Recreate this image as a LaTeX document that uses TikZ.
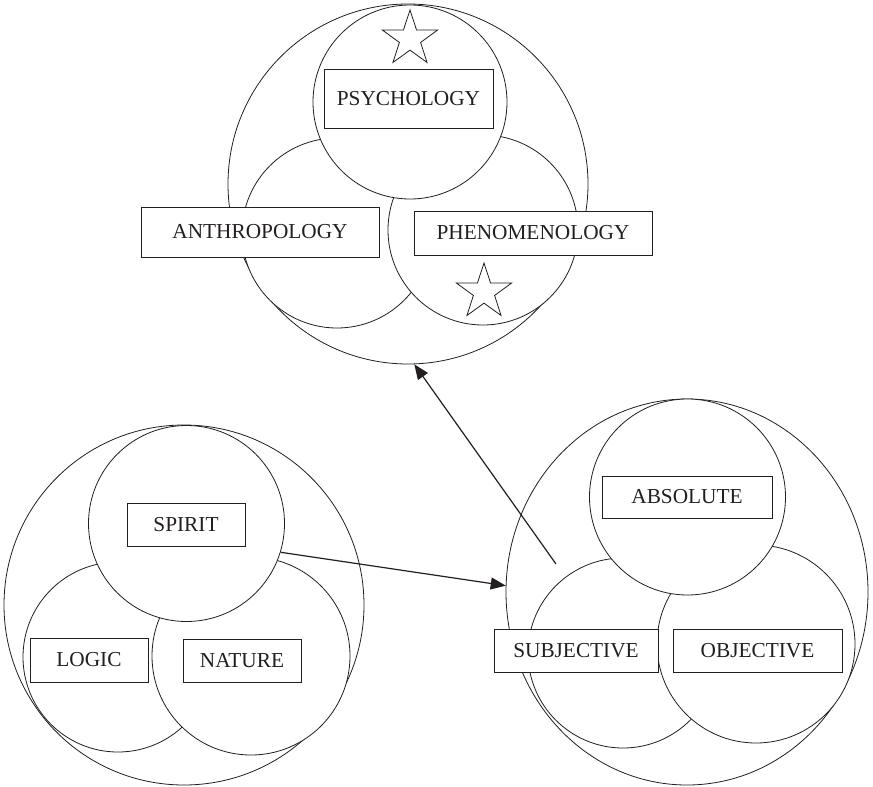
\documentclass[tikz,border=0pt]{standalone}
\usepackage{fontspec}
\setmainfont{Liberation Serif}
\usepackage{xcolor}
\usepackage{tikz}
\usetikzlibrary{arrows.meta,shapes.geometric}
\definecolor{ink}{HTML}{231F20}
\tikzset{
  ring/.style={circle, draw=ink, fill=white, line width=0.8pt, inner sep=0pt},
  oval/.style={ellipse, draw=ink, fill=white, line width=0.8pt, inner sep=0pt},
  tag/.style={rectangle, draw=ink, fill=white, line width=0.8pt, inner sep=0pt,
    text=ink, font=\fontsize{21.3}{25}\selectfont},
  sparkle/.style={star, star points=5, star point ratio=2.6, draw=ink, fill=white,
    line width=0.8pt, inner sep=0pt, minimum size=58pt},
  flow/.style={-{Triangle[length=15pt,width=12pt]}, line width=1.2pt, draw=ink}
}
\newcommand{\Ring}[3]{% name, centre, diameter
  \node[ring, minimum size=#3pt] (#1) at (#2) {};
}

\begin{document}
\begin{tikzpicture}[x=1pt,y=-1pt]
  \useasboundingbox (0,0) rectangle (873,787);

  % top: mind
  \Ring{mind}{408,184}{360}
  \Ring{anthro}{337,233}{190}
  \Ring{pheno}{483,230}{190}
  \Ring{psych}{410,102}{194}
  \node[tag, minimum width=169pt, minimum height=59pt] (psychbox) at (408.5,98.5) {PSYCHOLOGY};
  \node[tag, minimum width=238pt, minimum height=50pt] (anthrobox) at (260,232) {ANTHROPOLOGY};
  \node[tag, minimum width=238pt, minimum height=44pt] (phenobox) at (533,233) {PHENOMENOLOGY};
  \node[sparkle] (startop) at (410,39) {};
  \node[sparkle] (starlow) at (484,292) {};

  % bottom left: system
  \Ring{system}{184,605}{360}
  \Ring{logic}{118,657}{190}
  \Ring{nature}{251,656}{198}
  \Ring{spirit}{186.5,523.5}{196}
  \node[tag, minimum width=118pt, minimum height=43pt] (spiritbox) at (186,524.5) {SPIRIT};
  \node[tag, minimum width=118pt, minimum height=44pt] (logicbox) at (89,660) {LOGIC};
  \node[tag, minimum width=118pt, minimum height=43pt] (naturebox) at (242,660.5) {NATURE};

  % bottom right: spirit
  \node[oval, minimum width=362pt, minimum height=386pt] (geist) at (687,592) {};
  \Ring{subj}{623,653}{190}
  \Ring{obj}{756,644}{198}
  \Ring{abs}{687.5,497}{196}
  \node[tag, minimum width=170pt, minimum height=42pt] (absbox) at (687,497) {ABSOLUTE};
  \node[tag, minimum width=164pt, minimum height=43pt] (subjbox) at (576,650.5) {SUBJECTIVE};
  \node[tag, minimum width=169pt, minimum height=43pt] (objbox) at (757.5,650.5) {OBJECTIVE};

  \coordinate (rise) at (556,564);
  \draw[flow] (spirit.-17) -- (geist.178);
  \draw[flow] (rise) -- (mind.-88);
\end{tikzpicture}
\end{document}
